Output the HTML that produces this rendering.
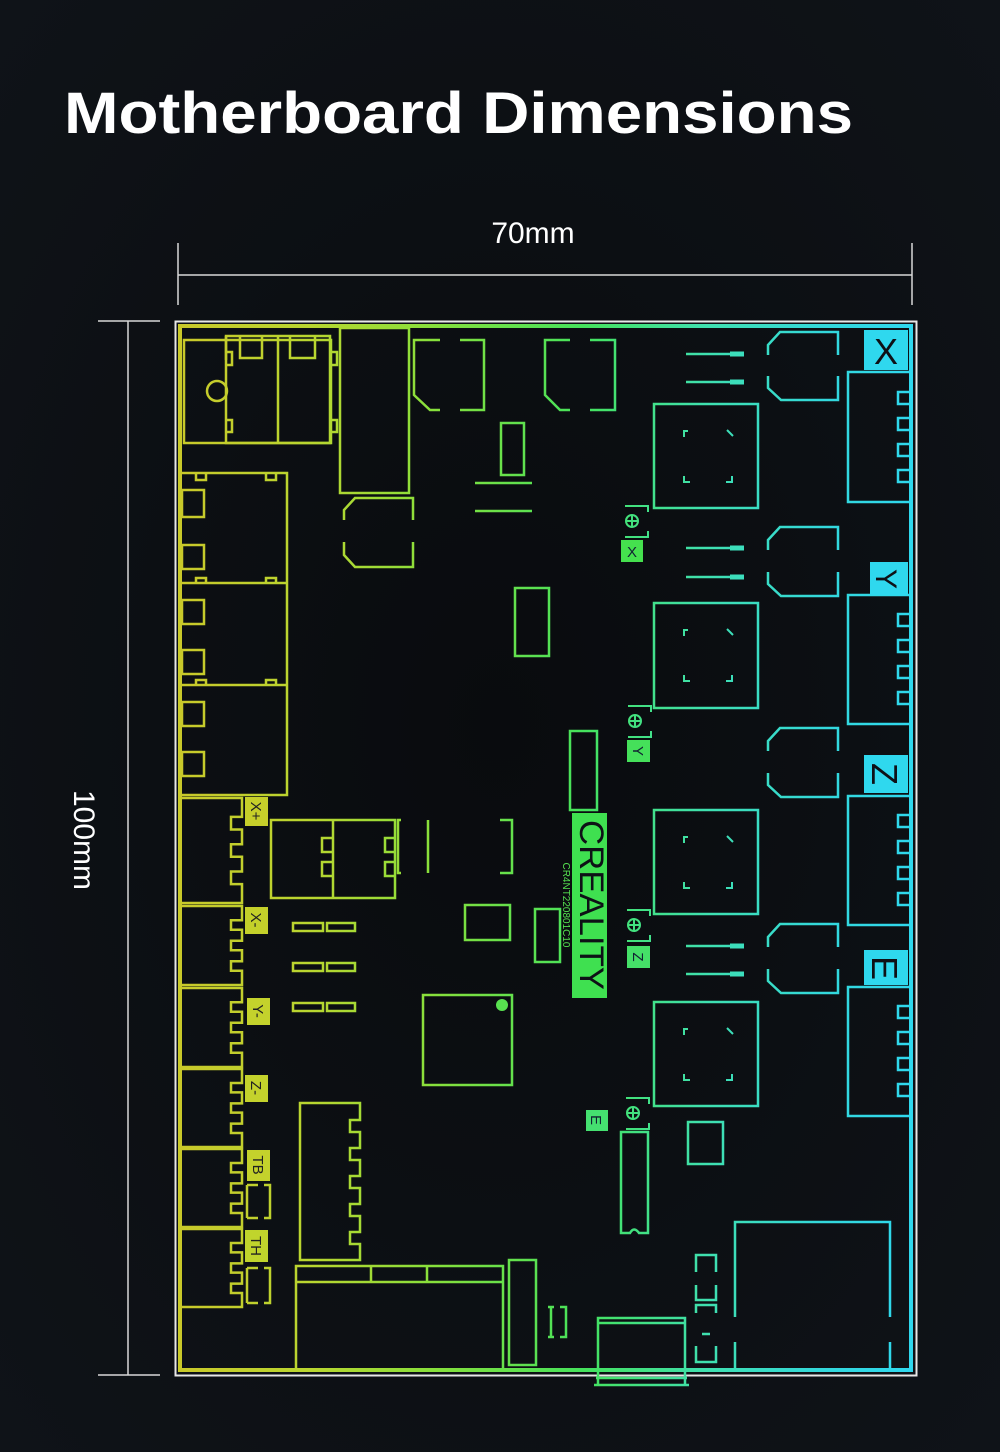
<!DOCTYPE html>
<html><head><meta charset="utf-8"><style>
html,body{margin:0;padding:0;background:#0c0e12;}
svg{display:block}
</style></head><body>
<svg width="1000" height="1452" viewBox="0 0 1000 1452" xmlns="http://www.w3.org/2000/svg">
<defs>
<linearGradient id="g" gradientUnits="userSpaceOnUse" x1="180" y1="0" x2="912" y2="0">
<stop offset="0" stop-color="#c9c92a"/>
<stop offset="0.18" stop-color="#b9d630"/>
<stop offset="0.35" stop-color="#86e03c"/>
<stop offset="0.55" stop-color="#45e25c"/>
<stop offset="0.72" stop-color="#3fe0b0"/>
<stop offset="0.88" stop-color="#33d8dc"/>
<stop offset="1" stop-color="#2fd8ee"/>
</linearGradient>
<radialGradient id="bg" cx="0.5" cy="0.5" r="0.7">
<stop offset="0" stop-color="#090b0e"/><stop offset="1" stop-color="#0f1318"/>
</radialGradient>
</defs>
<rect width="1000" height="1452" fill="url(#bg)"/>
<text x="64" y="133" font-family="Liberation Sans, sans-serif" font-weight="bold" font-size="58" fill="#fff" textLength="789" lengthAdjust="spacingAndGlyphs">Motherboard Dimensions</text>

<g stroke="#d8d8d8" stroke-width="1.5" fill="none">
<line x1="178" y1="243" x2="178" y2="305"/><line x1="912" y1="243" x2="912" y2="305"/>
<line x1="178" y1="275" x2="912" y2="275"/>
<line x1="98" y1="321" x2="160" y2="321"/><line x1="98" y1="1375" x2="160" y2="1375"/>
<line x1="128" y1="321" x2="128" y2="1375"/>
</g>
<text x="533" y="243" text-anchor="middle" font-family="Liberation Sans, sans-serif" font-size="30" fill="#fff">70mm</text>
<text transform="translate(74,840) rotate(90)" text-anchor="middle" font-family="Liberation Sans, sans-serif" font-size="30" fill="#fff">100mm</text>

<rect x="175.5" y="321.5" width="741" height="1054" fill="none" stroke="#e8e8e8" stroke-width="2"/>
<g fill="none" stroke="url(#g)" stroke-width="2.5">
<rect x="180" y="326" width="731" height="1044" stroke-width="4"/>

<rect x="184" y="340" width="147" height="103"/>
<path d="M226,336 H330 V443 H226 Z M278,336 V443"/>
<path d="M226,336 V360 M240,336 V358 H262 V336 M290,336 V358 H315 V336 M330,352 H337 V365 H330 M330,420 H337 V432 H330 M226,420 H232 V432 H226 M226,352 H232 V365 H226"/>
<circle cx="217" cy="391" r="10"/>
<rect x="340" y="328" width="69" height="165"/>
<path d="M344,520 V510 L355,498 H413 V520 M344,542 V555 L355,567 H413 V542"/>
<path d="M440,340 H414 V395 L430,410 H440 M460,340 H484 V410 H460"/>
<path d="M570,340 H545 V395 L560,410 H570 M590,340 H615 V410 H590"/>
<rect x="501" y="423" width="23" height="52"/>
<path d="M475,483 H532 M475,511 H532"/>

<path d="M182,473 H287 V795 H182 M182,583 H287 M182,685 H287"/>
<path d="M196,473 V480 H206 V473 M266,473 V480 H276 V473 M196,583 V578 H206 V583 M266,583 V578 H276 V583 M196,685 V680 H206 V685 M266,685 V680 H276 V685"/>
<rect x="182" y="490" width="22" height="27"/><rect x="182" y="545" width="22" height="24"/>
<rect x="182" y="600" width="22" height="24"/><rect x="182" y="650" width="22" height="24"/>
<rect x="182" y="702" width="22" height="24"/><rect x="182" y="752" width="22" height="24"/>

<g>
<path vector-effect="non-scaling-stroke" transform="translate(0,798) scale(1,1.05)" d="M182,0 H242 V18 H231 V30 H242 V44 H231 V56 H242 V70 H231 V82 H242 V100 H182"/>
<path vector-effect="non-scaling-stroke" transform="translate(0,906) scale(1,0.79)" d="M182,0 H242 V18 H231 V30 H242 V44 H231 V56 H242 V70 H231 V82 H242 V100 H182"/>
<path vector-effect="non-scaling-stroke" transform="translate(0,988) scale(1,0.79)" d="M182,0 H242 V18 H231 V30 H242 V44 H231 V56 H242 V70 H231 V82 H242 V100 H182"/>
<path vector-effect="non-scaling-stroke" transform="translate(0,1069) scale(1,0.78)" d="M182,0 H242 V18 H231 V30 H242 V44 H231 V56 H242 V70 H231 V82 H242 V100 H182"/>
<path vector-effect="non-scaling-stroke" transform="translate(0,1149) scale(1,0.78)" d="M182,0 H242 V18 H231 V30 H242 V44 H231 V56 H242 V70 H231 V82 H242 V100 H182"/>
<path vector-effect="non-scaling-stroke" transform="translate(0,1229) scale(1,0.78)" d="M182,0 H242 V18 H231 V30 H242 V44 H231 V56 H242 V70 H231 V82 H242 V100 H182"/>
</g>
<path d="M247,1185 H258 M247,1218 H258 M247,1185 V1218 M264,1185 H270 V1218 H264 M247,1268 H258 M247,1303 H258 M247,1268 V1303 M264,1268 H270 V1303 H264"/>

<rect x="271" y="820" width="124" height="78"/><path d="M333,820 V898 M333,838 H322 V852 H333 M333,862 H322 V876 H333 M395,838 H385 V852 H395 M395,862 H385 V876 H395"/>
<path d="M401,820 H398 V873 H401 M428,820 V873 M500,820 H512 V873 H500"/>
<rect x="293" y="923" width="30" height="8"/><rect x="327" y="923" width="28" height="8"/>
<rect x="293" y="963" width="30" height="8"/><rect x="327" y="963" width="28" height="8"/>
<rect x="293" y="1003" width="30" height="8"/><rect x="327" y="1003" width="28" height="8"/>
<rect x="465" y="905" width="45" height="35"/>
<rect x="535" y="909" width="25" height="53"/>
<rect x="423" y="995" width="89" height="90"/>
<path d="M300,1103 H360 V1120 H350 V1132 H360 V1148 H350 V1160 H360 V1176 H350 V1188 H360 V1204 H350 V1216 H360 V1232 H350 V1244 H360 V1260 H300 Z"/>
<rect x="296" y="1266" width="207" height="104"/><path d="M296,1282 H503 M371,1266 V1282 M427,1266 V1282"/>
<rect x="509" y="1260" width="27" height="105"/>
<path d="M548,1307 H554 M548,1337 H554 M551,1307 V1337 M560,1307 H566 V1337 H560"/>
<rect x="515" y="588" width="34" height="68"/>
<rect x="570" y="731" width="27" height="79"/>

<rect x="654" y="404" width="104" height="104"/>
<rect x="654" y="603" width="104" height="105"/>
<rect x="654" y="810" width="104" height="104"/>
<rect x="654" y="1002" width="104" height="104"/>
<g stroke-width="2">
<path d="M684,437 V431 H688 M684,476 V482 H690 M726,482 H732 V476 M727,430 L733,436"/>
<path d="M684,636 V630 H688 M684,675 V681 H690 M726,681 H732 V675 M727,629 L733,635"/>
<path d="M684,843 V837 H688 M684,882 V888 H690 M726,888 H732 V882 M727,836 L733,842"/>
<path d="M684,1035 V1029 H688 M684,1074 V1080 H690 M726,1080 H732 V1074 M727,1028 L733,1034"/>
</g>
<path d="M686,354 H742 M686,382 H742 M686,548 H742 M686,577 H742 M686,946 H742 M686,974 H742"/>
<g stroke-width="5"><path d="M730,354 H744 M730,382 H744 M730,548 H744 M730,577 H744 M730,946 H744 M730,974 H744"/></g>
<path d="M768,355 V345 L780,332 H838 V355 M768,376 V388 L781,400 H838 V376"/>
<path d="M768,550 V540 L780,527 H838 V550 M768,572 V584 L781,596 H838 V572"/>
<path d="M768,751 V741 L780,728 H838 V751 M768,773 V785 L781,797 H838 V773"/>
<path d="M768,947 V937 L780,924 H838 V947 M768,969 V981 L781,993 H838 V969"/>
<path d="M909,372 H848 V502 H909 M909,392 H898 V404 H909 M909,418 H898 V430 H909 M909,444 H898 V456 H909 M909,470 H898 V482 H909"/>
<path d="M909,595 H848 V724 H909 M909,614 H898 V626 H909 M909,640 H898 V652 H909 M909,666 H898 V678 H909 M909,692 H898 V704 H909"/>
<path d="M909,796 H848 V925 H909 M909,815 H898 V827 H909 M909,841 H898 V853 H909 M909,867 H898 V879 H909 M909,893 H898 V905 H909"/>
<path d="M909,987 H848 V1116 H909 M909,1006 H898 V1018 H909 M909,1032 H898 V1044 H909 M909,1058 H898 V1070 H909 M909,1084 H898 V1096 H909"/>
<g stroke-width="2">
<circle cx="632" cy="521" r="6"/><path d="M626,521 H638 M632,515 V527 M625,506 H648 V512 M625,537 H648 V531"/>
<circle cx="635" cy="721" r="6"/><path d="M629,721 H641 M635,715 V727 M628,706 H651 V712 M628,737 H651 V731"/>
<circle cx="634" cy="925" r="6"/><path d="M628,925 H640 M634,919 V931 M627,910 H650 V916 M627,941 H650 V935"/>
<circle cx="633" cy="1113" r="6"/><path d="M627,1113 H639 M633,1107 V1119 M626,1098 H649 V1104 M626,1129 H649 V1123"/>
</g>
<path d="M621,1132 H648 V1233 H639 Q634,1226 630,1233 H621 Z"/>
<rect x="688" y="1122" width="35" height="42"/>
<path d="M735,1317 V1222 H890 V1317 M735,1342 V1370 M890,1342 V1370"/>
<path d="M696,1272 V1255 H716 V1272 M696,1285 V1300 H716 V1285 M696,1313 V1305 H716 V1313 M702,1334 H710 M696,1346 V1362 H716 V1346"/>
<path d="M598,1385 V1318 H685 V1385 M598,1323 H685 M594,1385 H689 M596,1378 H687"/>
</g>

<g font-family="Liberation Sans, sans-serif" font-size="15">
<rect x="245" y="797" width="23" height="29" fill="#c6cf2a"/>
<text transform="translate(251,811) rotate(90)" text-anchor="middle" fill="#222">X+</text>
<rect x="245" y="907" width="23" height="27" fill="#c4d02a"/>
<text transform="translate(251,920) rotate(90)" text-anchor="middle" fill="#222">X-</text>
<rect x="247" y="998" width="23" height="27" fill="#c4d22c"/>
<text transform="translate(253,1011) rotate(90)" text-anchor="middle" fill="#222">Y-</text>
<rect x="245" y="1075" width="23" height="27" fill="#c4d22c"/>
<text transform="translate(251,1088) rotate(90)" text-anchor="middle" fill="#222">Z-</text>
<rect x="247" y="1150" width="23" height="31" fill="#c4d22c"/>
<text transform="translate(253,1165) rotate(90)" text-anchor="middle" fill="#222">TB</text>
<rect x="245" y="1230" width="23" height="32" fill="#c0d42c"/>
<text transform="translate(251,1246) rotate(90)" text-anchor="middle" fill="#222">TH</text>
<rect x="621" y="540" width="22" height="22" fill="#45e04e"/>
<text x="632" y="557" text-anchor="middle" fill="#123">X</text>
<rect x="627" y="740" width="23" height="22" fill="#45e05a"/>
<text transform="translate(633,751) rotate(90)" text-anchor="middle" fill="#123">Y</text>
<rect x="627" y="946" width="23" height="22" fill="#45e068"/>
<text transform="translate(633,957) rotate(90)" text-anchor="middle" fill="#123">Z</text>
<rect x="586" y="1110" width="22" height="21" fill="#45e070"/>
<text transform="translate(591,1120) rotate(90)" text-anchor="middle" fill="#123">E</text>
</g>
<circle cx="502" cy="1005" r="6" fill="#58e050"/>
<rect x="572" y="813" width="35" height="185" fill="#3fe050"/>
<text transform="translate(580,905) rotate(90)" text-anchor="middle" font-family="Liberation Sans, sans-serif" font-size="34" fill="#0e1116" textLength="170" lengthAdjust="spacingAndGlyphs">CREALITY</text>
<text transform="translate(563,905) rotate(90)" text-anchor="middle" font-family="Liberation Sans, sans-serif" font-size="10" fill="#55e050" textLength="85" lengthAdjust="spacingAndGlyphs">CR4NT220801C10</text>
<g font-family="Liberation Sans, sans-serif" font-size="36" fill="#0e1116">
<rect x="864" y="330" width="44" height="40" fill="#2fd8ee"/>
<text x="886" y="364" text-anchor="middle">X</text>
<rect x="870" y="562" width="38" height="33" fill="#2fd8ee"/>
<text transform="translate(876,579) rotate(90)" text-anchor="middle" font-size="30">Y</text>
<rect x="864" y="755" width="44" height="38" fill="#2fd8ee"/>
<text transform="translate(872,774) rotate(90)" text-anchor="middle">Z</text>
<rect x="864" y="950" width="44" height="35" fill="#2fd8ee"/>
<text transform="translate(872,968) rotate(90)" text-anchor="middle">E</text>
</g>
</svg>
</body></html>
